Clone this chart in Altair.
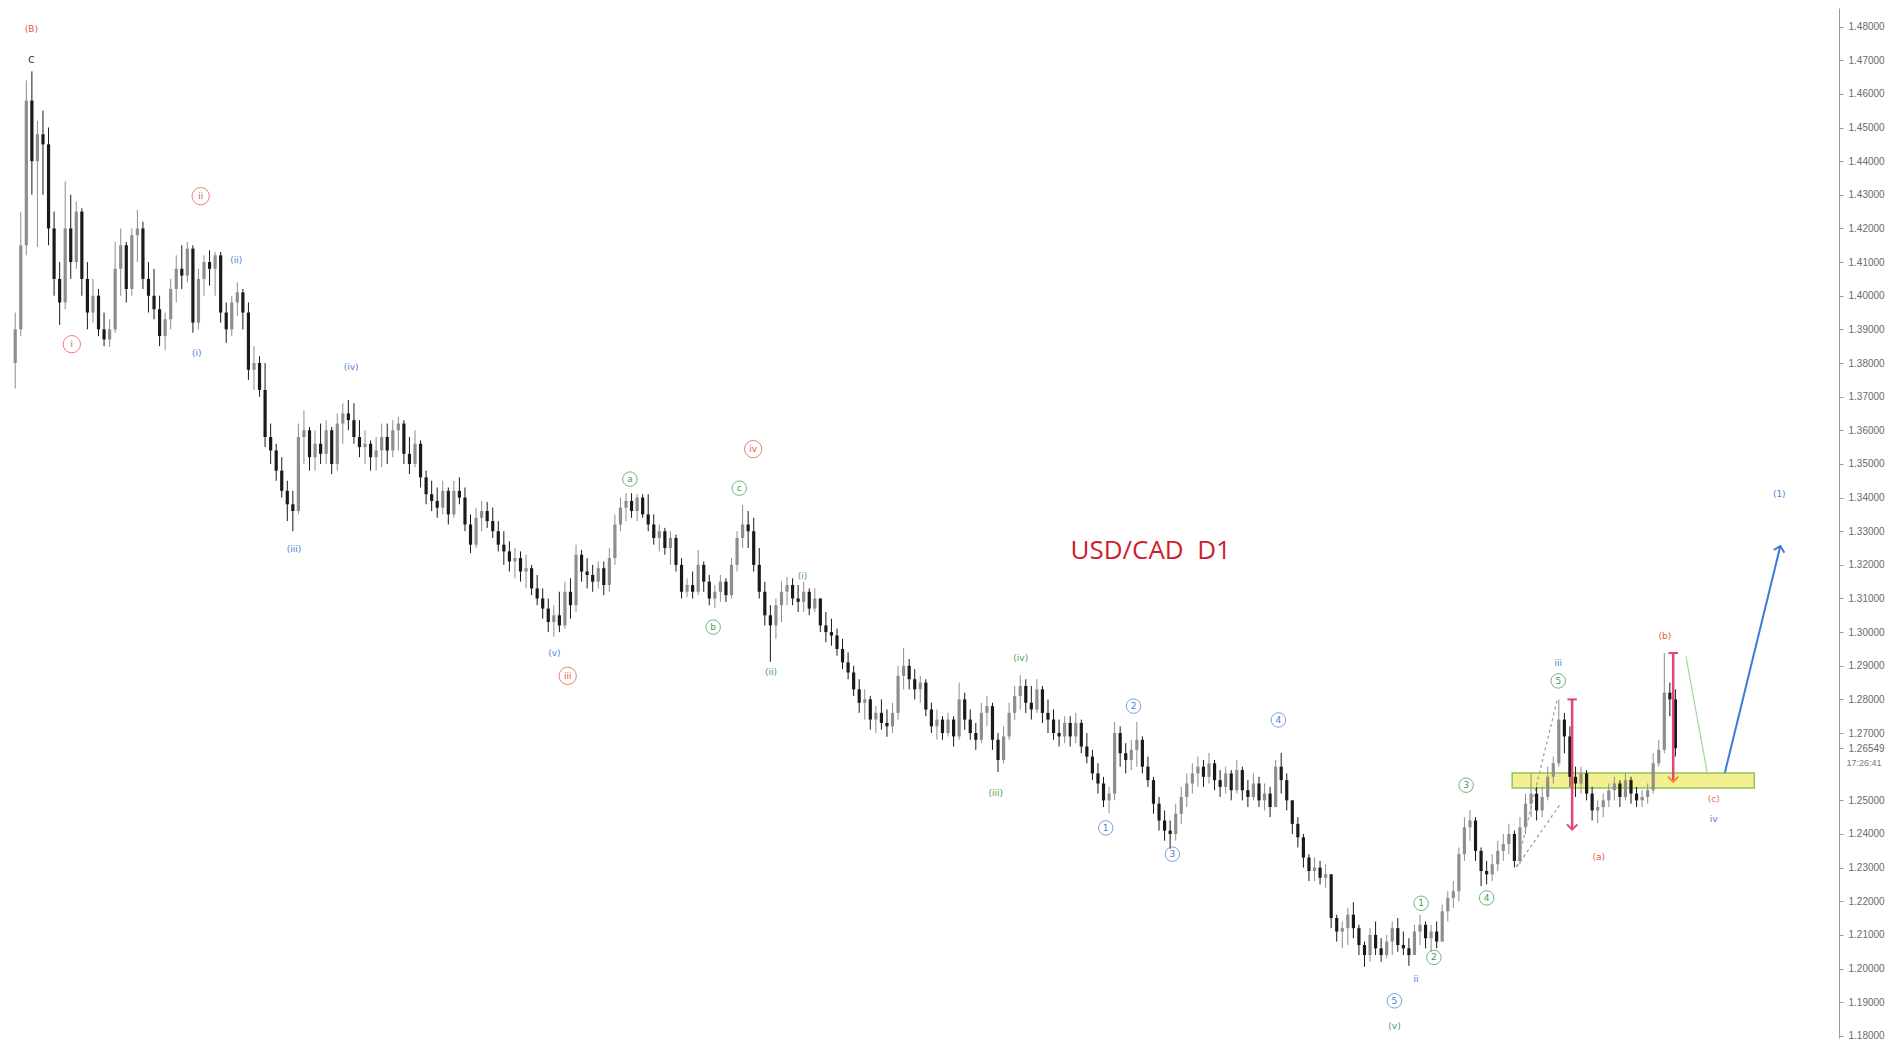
import altair as alt
import pandas as pd

# ---------------- OHLC data (price * 10000), daily bars ----------------
opens = [
    13800,13900,14150,14580,14400,14480,14450,14200,14050,13980,
    14200,14100,14250,14050,13950,14000,13900,13870,13900,14080,
    14150,14020,14180,14200,14050,14000,13960,13880,13930,14020,
    14080,14060,14140,13920,14050,14100,14080,14120,13950,13900,
    13980,14010,13950,13780,13800,13720,13580,13540,13480,13420,
    13380,13360,13580,13600,13520,13560,13530,13600,13500,13620,
    13650,13630,13580,13550,13560,13520,13540,13580,13540,13600,
    13620,13530,13500,13560,13460,13410,13390,13370,13420,13350,
    13420,13400,13320,13260,13340,13360,13330,13300,13260,13240,
    13210,13220,13180,13190,13130,13100,13070,13030,13050,13020,
    13120,13080,13230,13180,13170,13150,13190,13140,13220,13320,
    13370,13390,13360,13400,13350,13320,13280,13300,13250,13280,
    13200,13120,13140,13120,13200,13150,13100,13120,13150,13110,
    13200,13280,13320,13300,13200,13120,13050,13020,13080,13120,
    13140,13100,13090,13120,13070,13100,13020,13000,12990,12950,
    12910,12880,12830,12790,12800,12740,12760,12730,12720,12760,
    12870,12900,12860,12830,12850,12770,12720,12740,12700,12740,
    12690,12800,12740,12700,12680,12760,12780,12680,12620,12690,
    12760,12810,12840,12790,12770,12830,12760,12740,12700,12690,
    12730,12690,12730,12660,12630,12580,12550,12500,12520,12700,
    12640,12620,12650,12680,12600,12560,12490,12440,12410,12400,
    12460,12510,12550,12580,12600,12570,12610,12560,12540,12580,
    12530,12590,12530,12510,12550,12500,12520,12480,12600,12560,
    12500,12430,12390,12330,12290,12300,12270,12280,12150,12110,
    12120,12160,12120,12070,12040,12100,12060,12040,12080,12120,
    12070,12060,12040,12110,12130,12090,12110,12080,12170,12210,
    12230,12340,12420,12440,12350,12290,12280,12310,12350,12370,
    12400,12320,12420,12490,12520,12470,12510,12570,12610,12740,
    12690,12570,12550,12580,12520,12470,12480,12500,12530,12550,
    12510,12560,12520,12500,12510,12530,12610,12650,12820,12800,
]
highs = [
    13950,14250,14640,14667,14520,14550,14500,14250,14100,14340,
    14300,14280,14260,14100,14050,14020,13950,13930,14160,14200,
    14160,14200,14255,14220,14100,14080,14000,13950,14050,14120,
    14150,14160,14150,14080,14120,14135,14130,14130,13980,14000,
    14040,14020,13980,13850,13820,13800,13620,13560,13520,13450,
    13420,13620,13660,13610,13600,13620,13630,13610,13650,13680,
    13690,13680,13630,13600,13570,13580,13620,13620,13630,13640,
    13630,13580,13600,13570,13480,13450,13430,13450,13430,13450,
    13460,13430,13350,13370,13390,13387,13370,13330,13300,13270,
    13250,13240,13230,13200,13170,13130,13100,13080,13120,13150,
    13160,13260,13244,13220,13200,13210,13210,13250,13350,13400,
    13413,13413,13410,13410,13410,13350,13320,13310,13300,13290,
    13220,13160,13180,13244,13210,13170,13140,13170,13160,13220,
    13300,13378,13360,13340,13250,13150,13080,13100,13150,13164,
    13160,13140,13150,13130,13130,13100,13060,13040,13010,12980,
    12940,12900,12860,12830,12810,12780,12800,12770,12790,12900,
    12953,12920,12890,12870,12860,12790,12770,12750,12760,12750,
    12850,12820,12770,12730,12790,12810,12790,12700,12720,12790,
    12840,12872,12860,12840,12860,12840,12800,12770,12740,12750,
    12750,12760,12740,12700,12650,12610,12570,12540,12733,12720,
    12670,12680,12733,12690,12630,12570,12510,12470,12440,12490,
    12540,12580,12610,12630,12620,12641,12620,12590,12600,12590,
    12620,12600,12560,12580,12570,12550,12540,12620,12641,12580,
    12500,12450,12400,12340,12330,12320,12310,12280,12160,12140,
    12180,12197,12130,12080,12120,12140,12090,12100,12140,12150,
    12110,12090,12130,12160,12140,12130,12140,12190,12230,12260,
    12360,12450,12471,12450,12360,12320,12340,12380,12400,12430,
    12410,12450,12520,12580,12540,12540,12600,12630,12800,12760,
    12720,12600,12600,12590,12540,12500,12520,12550,12570,12560,
    12580,12570,12540,12530,12550,12640,12680,12938,12850,12830,
]
lows = [
    13724,13880,14120,14300,14145,14300,14150,14000,13913,13960,
    14050,14080,14000,13900,13920,13880,13850,13848,13890,14000,
    13980,14000,14100,14020,13950,13930,13850,13839,13900,13980,
    14020,14040,13890,13900,14000,14030,14000,13920,13860,13880,
    13940,13900,13750,13720,13700,13550,13500,13450,13400,13330,
    13300,13350,13500,13480,13480,13500,13500,13470,13480,13560,
    13600,13560,13520,13500,13480,13480,13490,13500,13520,13540,
    13500,13470,13490,13430,13380,13360,13340,13350,13320,13340,
    13380,13300,13235,13250,13300,13310,13280,13240,13200,13180,
    13160,13150,13130,13110,13080,13040,13000,12986,13000,13010,
    13040,13060,13150,13130,13120,13130,13110,13120,13200,13300,
    13330,13340,13330,13340,13300,13260,13240,13230,13200,13180,
    13100,13104,13100,13110,13120,13080,13072,13090,13090,13100,
    13180,13250,13250,13180,13100,13020,12912,12980,13030,13080,
    13080,13060,13060,13050,13060,13000,12970,12960,12930,12890,
    12860,12810,12760,12740,12710,12700,12710,12689,12700,12740,
    12830,12830,12800,12790,12750,12700,12680,12680,12690,12660,
    12680,12710,12680,12650,12670,12720,12650,12584,12610,12680,
    12740,12770,12760,12740,12760,12730,12700,12680,12660,12670,
    12660,12670,12640,12610,12560,12520,12480,12462,12500,12600,
    12580,12590,12600,12580,12540,12460,12410,12380,12356,12380,
    12430,12480,12520,12540,12540,12550,12530,12510,12520,12500,
    12520,12500,12480,12500,12480,12470,12450,12480,12520,12470,
    12400,12360,12300,12260,12260,12250,12240,12120,12080,12060,
    12070,12090,12040,12005,12020,12040,12020,12030,12040,12050,
    12040,12008,12040,12070,12060,12050,12060,12080,12140,12180,
    12200,12320,12380,12320,12245,12250,12260,12290,12320,12340,
    12300,12310,12400,12450,12440,12450,12500,12550,12600,12640,
    12540,12510,12520,12500,12440,12432,12450,12480,12500,12480,
    12500,12490,12480,12480,12490,12520,12600,12640,12750,12630,
]
closes = [
    13900,14150,14580,14400,14480,14450,14200,14050,13980,14200,
    14100,14250,14050,13950,14000,13900,13870,13900,14080,14150,
    14020,14180,14200,14050,14000,13960,13880,13930,14020,14080,
    14060,14140,13920,14050,14100,14080,14120,13950,13900,13980,
    14010,13950,13780,13800,13720,13580,13540,13480,13420,13380,
    13360,13580,13600,13520,13560,13530,13600,13500,13620,13650,
    13630,13580,13550,13560,13520,13540,13580,13540,13600,13620,
    13530,13500,13560,13460,13410,13390,13370,13420,13350,13420,
    13400,13320,13260,13340,13360,13330,13300,13260,13240,13210,
    13220,13180,13190,13130,13100,13070,13030,13050,13020,13120,
    13080,13230,13180,13170,13150,13190,13140,13220,13320,13370,
    13390,13360,13400,13350,13320,13280,13300,13250,13280,13200,
    13120,13140,13120,13200,13150,13100,13120,13150,13110,13200,
    13280,13320,13300,13200,13120,13050,13020,13080,13120,13140,
    13100,13090,13120,13070,13100,13020,13000,12990,12950,12910,
    12880,12830,12790,12800,12740,12760,12730,12720,12760,12870,
    12900,12860,12830,12850,12770,12720,12740,12700,12740,12690,
    12800,12740,12700,12680,12760,12780,12680,12620,12690,12760,
    12810,12840,12790,12770,12830,12760,12740,12700,12690,12730,
    12690,12730,12660,12630,12580,12550,12500,12520,12700,12640,
    12620,12650,12680,12600,12560,12490,12440,12410,12400,12460,
    12510,12550,12580,12600,12570,12610,12560,12540,12580,12530,
    12590,12530,12510,12550,12500,12520,12480,12600,12560,12500,
    12430,12390,12330,12290,12300,12270,12280,12150,12110,12120,
    12160,12120,12070,12040,12100,12060,12040,12080,12120,12070,
    12060,12040,12110,12130,12090,12110,12080,12170,12210,12230,
    12340,12420,12440,12350,12290,12280,12310,12350,12370,12400,
    12320,12420,12490,12520,12470,12510,12570,12610,12740,12690,
    12570,12550,12580,12520,12470,12480,12500,12530,12550,12510,
    12560,12520,12500,12510,12530,12610,12650,12820,12800,12655,
]

# ---------------- axis tick values ----------------
y_ticks = [1.18, 1.19, 1.20, 1.21, 1.22, 1.23, 1.24, 1.25, 1.26549, 1.27,
           1.28, 1.29, 1.30, 1.31, 1.32, 1.33, 1.34, 1.35, 1.36, 1.37,
           1.38, 1.39, 1.40, 1.41, 1.42, 1.43, 1.44, 1.45, 1.46, 1.47, 1.48]

# ---------------- wave labels ----------------
RED, BLUE, GREEN, BLACK, ORANGE = "#e5584c", "#4d80d2", "#3f9f58", "#222222", "#e27a3e"
label_text = ["(B)", "C", "i", "ii", "iii", "iv", "(a)", "(b)", "(c)",
              "(i)", "(ii)", "(iii)", "(iv)", "(v)",
              "1", "2", "3", "4", "5", "ii", "iii", "iv", "(1)",
              "a", "b", "c", "(ii)", "(i)", "(iii)", "(iv)", "(v)",
              "1", "2", "3", "4", "5"]
label_idx = [2.9, 2.9, 10.2, 33.4, 99.5, 132.9, 285.2, 297.1, 305.9,
             32.7, 39.8, 50.2, 60.5, 97.1,
             196.4, 201.4, 208.4, 227.5, 248.4, 252.3, 277.9, 305.9, 317.7,
             110.7, 125.7, 130.4, 136.1, 141.8, 176.6, 181.1, 248.4,
             253.2, 255.5, 261.3, 265.0, 277.9]
label_price = [1.4793, 1.4701, 1.3856, 1.4296, 1.2870, 1.3544, 1.2331, 1.2988, 1.2504,
               1.3830, 1.4106, 1.3247, 1.3788, 1.2938,
               1.2418, 1.2780, 1.2340, 1.2739, 1.1904, 1.1969, 1.2908, 1.2444, 1.3410,
               1.3455, 1.3015, 1.3428, 1.2882, 1.3168, 1.2522, 1.2923, 1.1829,
               1.2194, 1.2033, 1.2545, 1.2210, 1.2855]
label_color = [RED, BLACK, RED, RED, RED, RED, RED, RED, ORANGE,
               BLUE, BLUE, BLUE, BLUE, BLUE,
               BLUE, BLUE, BLUE, BLUE, BLUE, BLUE, BLUE, BLUE, BLUE,
               GREEN, GREEN, GREEN, GREEN, GREEN, GREEN, GREEN, GREEN,
               GREEN, GREEN, GREEN, GREEN, GREEN]
label_circled = [False, False, True, True, True, True, False, False, False,
                 False, False, False, False, False,
                 True, True, True, True, True, False, False, False, False,
                 True, True, True, False, False, False, False, False,
                 True, True, True, True, True]

# ---------------- annotation geometry (bar index, price) ----------------
zone_idx = [269.6, 313.2]
zone_price = [1.2537, 1.2581]
pink_arrow_idx = [280.4, 298.6]
pink_arrow_top = [1.2800, 1.2938]
pink_arrow_bottom = [1.2413, 1.2555]
pink_head_color = ["#e0457b", "#f08a3a"]
dash_group = ["A", "A", "B", "B"]
dash_idx = [270.4, 277.7, 270.4, 278.4]
dash_price = [1.2302, 1.2798, 1.2302, 1.2492]
green_line_idx = [300.9, 304.8]
green_line_price = [1.2927, 1.2576]
blue_arrow_idx = [307.9, 317.9]
blue_arrow_price = [1.2582, 1.3256]

# ---------------- frames ----------------
n = len(closes)
bars = pd.DataFrame({
    "i": list(range(n)),
    "o": [v / 10000 for v in opens],
    "h": [v / 10000 for v in highs],
    "l": [v / 10000 for v in lows],
    "c": [v / 10000 for v in closes],
})
bars["col"] = ["#8e8e8e" if c >= o else "#1a1a1a" for o, c in zip(bars["o"], bars["c"])]

labels = pd.DataFrame({"t": label_text, "i": label_idx, "p": label_price,
                       "col": label_color, "circ": label_circled})
labels["sz"] = [300 if col == RED else 210 for col in label_color]
circ = labels[labels["circ"]]

W, H = 1831, 1030
xs = alt.Scale(domain=[-0.4, -0.4 + W / 5.583], nice=False, zero=False)
ys = alt.Scale(domain=[1.17935, 1.48553], nice=False, zero=False)

yaxis = alt.Axis(orient="right", values=y_ticks, format=".5f", labelFont="Liberation Sans",
                 labelFontSize=10, labelColor="#6a6a6a", tickColor="#9a9a9a",
                 domainColor="#9a9a9a", tickSize=4, labelPadding=5, grid=False,
                 labelOverlap=False, title=None)

def X(f="i"):
    return alt.X(f"{f}:Q", scale=xs, axis=None, title=None)

def Y(f="p"):
    return alt.Y(f"{f}:Q", scale=ys, axis=yaxis, title=None)

zone = alt.Chart(pd.DataFrame({"x1": [zone_idx[0]], "x2": [zone_idx[1]],
                               "y1": [zone_price[0]], "y2": [zone_price[1]]})).mark_rect(
    fill="#f3ee86", stroke="#86bf4c", strokeWidth=1.5, opacity=0.9
).encode(x=X("x1"), x2="x2:Q", y=Y("y1"), y2="y2:Q")

wicks = alt.Chart(bars).mark_rule(strokeWidth=1).encode(
    x=X(), y=Y("l"), y2="h:Q", color=alt.Color("col:N", scale=None))

bodies = alt.Chart(bars).mark_bar(size=3.2).encode(
    x=X(), y=Y("o"), y2="c:Q", color=alt.Color("col:N", scale=None))

dashes = alt.Chart(pd.DataFrame({"g": dash_group, "i": dash_idx, "p": dash_price})).mark_line(
    color="#9a9a9a", strokeDash=[3, 3], strokeWidth=1.2
).encode(x=X(), y=Y(), detail="g:N")

pink_df = pd.DataFrame({"i": pink_arrow_idx, "top": pink_arrow_top,
                        "bot": pink_arrow_bottom, "hc": pink_head_color})
pink_shafts = alt.Chart(pink_df).mark_rule(color="#e0457b", strokeWidth=2.5).encode(
    x=X(), y=Y("top"), y2="bot:Q")
pink_caps = alt.Chart(pink_df).mark_point(shape="M-1,0L1,0", size=90, strokeWidth=2,
                                          color="#e0457b", filled=False, opacity=1).encode(
    x=X(), y=Y("top"))
pink_heads = alt.Chart(pink_df).mark_point(shape="M-1,-1L0,0L1,-1", size=110, strokeWidth=2,
                                           filled=False, opacity=1).encode(
    x=X(), y=Y("bot"), color=alt.Color("hc:N", scale=None))

green_line = alt.Chart(pd.DataFrame({"i": green_line_idx, "p": green_line_price})).mark_line(
    color="#9fd89c", strokeWidth=1.2).encode(x=X(), y=Y())

blue_df = pd.DataFrame({"i": blue_arrow_idx, "p": blue_arrow_price})
blue_line = alt.Chart(blue_df).mark_line(color="#3f7ad6", strokeWidth=2).encode(x=X(), y=Y())
blue_head = alt.Chart(blue_df.tail(1)).mark_point(
    shape="M-1,1L0,0L1,1", size=120, angle=14, strokeWidth=2, filled=False,
    color="#3f7ad6", opacity=1).encode(x=X(), y=Y())

circles = alt.Chart(circ).mark_point(shape="circle", filled=False, strokeWidth=1,
                                     opacity=0.75).encode(
    x=X(), y=Y(), color=alt.Color("col:N", scale=None), size=alt.Size("sz:Q", scale=None))

texts = alt.Chart(labels).mark_text(font="DejaVu Sans", fontSize=9, baseline="middle",
                                    align="center").encode(
    x=X(), y=Y(), text="t:N", color=alt.Color("col:N", scale=None))

title_df = pd.DataFrame({"t": ["USD/CAD\u00a0\u00a0D1"], "i": [204.5], "p": [1.3241]})
title = alt.Chart(title_df).mark_text(font="Open Sans", fontSize=26, color="#cc1f2d",
                                      baseline="middle", align="center").encode(
    x=X(), y=Y(), text="t:N")

clock_df = pd.DataFrame({"t": ["17:26:41"], "i": [329.8], "p": [1.2611]})
clock = alt.Chart(clock_df).mark_text(font="Liberation Sans", fontSize=9, color="#777777",
                                      align="left", baseline="middle").encode(
    x=X(), y=Y(), text="t:N")

chart = alt.layer(
    zone, wicks, bodies, dashes, pink_shafts, pink_caps, pink_heads,
    green_line, blue_line, blue_head, circles, texts, title, clock
).properties(
    width=W, height=H, background="white",
    padding={"left": 0, "top": 0, "right": 0, "bottom": 0}
).configure_view(stroke=None)

chart.save("out.html", embed_options={"renderer": "svg", "actions": False})
